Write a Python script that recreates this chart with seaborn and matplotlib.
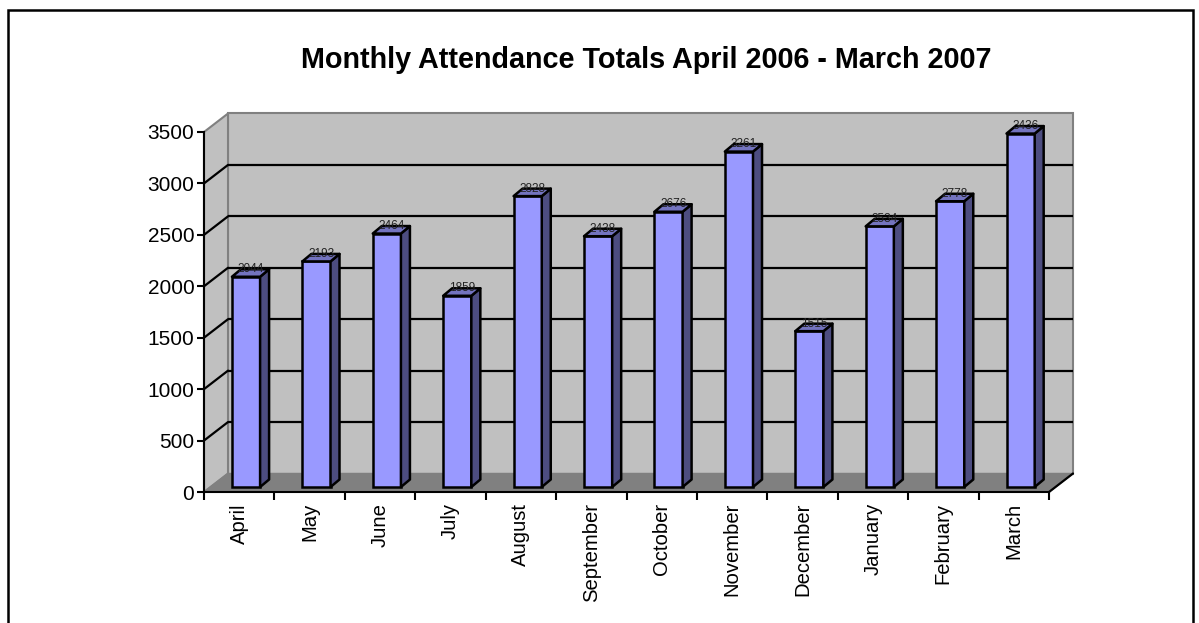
import matplotlib
matplotlib.use("Agg")
import matplotlib.pyplot as plt
from matplotlib.patches import Polygon, Rectangle
from matplotlib.transforms import ScaledTranslation
import pandas as pd
import seaborn as sns

months = ["April", "May", "June", "July", "August", "September", "October",
          "November", "December", "January", "February", "March"]
attendance = [2044, 2193, 2464, 1859, 2828, 2438, 2676, 3261, 1515, 2534, 2778, 3436]
y_ticks = [0, 500, 1000, 1500, 2000, 2500, 3000, 3500]
title = "Monthly Attendance Totals April 2006 - March 2007"

W, H = 1199, 623
sns.set_theme(style="white", rc={"font.family": ["Liberation Sans", "DejaVu Sans"]})
plt.rcParams["font.family"] = ["Liberation Sans", "DejaVu Sans"]

fig = plt.figure(figsize=(W / 100, H / 100), dpi=100, facecolor="white")
fig.add_artist(Rectangle((7.5 / W, -5 / H), 1185 / W, (H - 10 + 5) / H, transform=fig.transFigure,
                         fill=False, ec="black", lw=1.8))
ax = fig.add_axes([204 / W, 1 - 492 / H, 845 / W, 360 / H])

df = pd.DataFrame({"month": months, "attendance": attendance})
sns.barplot(data=df, x="month", y="attendance", color="#9999FF", saturation=1,
            width=0.4, edgecolor="black", linewidth=1.8, ax=ax, zorder=5)
ax.set_xlim(-0.5, 11.5)
ax.set_ylim(0, 3500)


def shift(dx, dy):
    return ax.transData + ScaledTranslation(dx / 100, dy / 100, fig.dpi_scale_trans)


WX, WY = 24, 18.5
BX, BY = 6.8, 5
DX, DY = 9, 7.5
back = shift(WX, WY)
x0, x1 = ax.get_xlim()
top = y_ticks[-1]

# Walls and floor of the 3D box
ax.add_patch(Polygon([(x0, 0), (x1, 0), (x1, top), (x0, top)], closed=True, transform=back,
                     fc="#C0C0C0", ec="#808080", lw=1.5, zorder=1, clip_on=False))
side = [(x0, 0), (x0, top)]
disp = [ax.transData.transform(p) for p in side] + [back.transform((x0, top)), back.transform((x0, 0))]
ax.add_patch(Polygon(disp, closed=True, transform=None, fc="#C0C0C0", ec="#808080", lw=1.5,
                     zorder=1, clip_on=False))
floor = [ax.transData.transform((x0, 0)), ax.transData.transform((x1, 0)),
         back.transform((x1, 0)), back.transform((x0, 0))]
ax.add_patch(Polygon(floor, closed=True, transform=None, fc="#808080", ec="#808080", lw=1,
                     zorder=2, clip_on=False))

# Gridlines on the back wall and the slanted part on the side wall
for v in y_ticks[1:-1]:
    ax.plot([x0, x1], [v, v], color="black", lw=1.6, transform=back, zorder=3, clip_on=False,
            solid_capstyle="butt")
    a, b = ax.transData.transform((x0, v)), back.transform((x0, v))
    ax.plot([a[0], b[0]], [a[1], b[1]], color="black", lw=1.6, transform=None, zorder=3,
            clip_on=False)
a, b = ax.transData.transform((x1, 0)), back.transform((x1, 0))
ax.plot([a[0], b[0]], [a[1], b[1]], color="black", lw=1.6, transform=None, zorder=3, clip_on=False)

# Bars: shift the seaborn bars to the floor and add the depth faces
front = shift(BX, BY)
bars = ax.containers[0]
for bar, value in zip(bars, attendance):
    bar.set_transform(front)
    bar.set_clip_on(False)
    l, r = bar.get_x(), bar.get_x() + bar.get_width()
    pl = front.transform((l, value))
    pr = front.transform((r, value))
    pb = front.transform((r, 0))
    ax.add_patch(Polygon([pr, pb, (pb[0] + DX, pb[1] + DY), (pr[0] + DX, pr[1] + DY)], closed=True,
                         transform=None, fc="#4D4D80", ec="black", lw=1.8, zorder=6,
                         clip_on=False, joinstyle="round"))
    ax.add_patch(Polygon([pl, pr, (pr[0] + DX, pr[1] + DY), (pl[0] + DX, pl[1] + DY)], closed=True,
                         transform=None, fc="#7373BF", ec="black", lw=1.8, zorder=6,
                         clip_on=False, joinstyle="round"))
    ax.annotate(f"{value}", xy=((l + r) / 2, value), xycoords=front, xytext=(3.5, 1),
                textcoords="offset points", ha="center", va="bottom", fontsize=8.5,
                color="#222222", zorder=8, annotation_clip=False)

# Axes lines, ticks, labels
ax.set_xticks([i - 0.5 for i in range(13)])
ax.set_xticklabels([""] * 13)
ax.set_xticks(range(12), minor=True)
ax.set_xticklabels(months, minor=True, rotation=90, fontsize=14.6, color="black")
ax.tick_params(axis="x", which="major", direction="out", length=6, width=1.5, color="black", bottom=True)
ax.tick_params(axis="x", which="minor", length=0, pad=8, bottom=False)
ax.set_yticks(y_ticks)
ax.set_yticklabels([str(v) for v in y_ticks], fontsize=15, color="black")
ax.tick_params(axis="y", direction="out", length=5, width=1.5, color="black", left=True, pad=2)
ax.set_xlabel("")
ax.set_ylabel("")
ax.patch.set_visible(False)
for name, s in ax.spines.items():
    s.set_visible(name in ("left", "bottom"))
    s.set_color("black")
    s.set_linewidth(1.5)
    s.set_zorder(7)

fig.text(646 / W, 1 - 59.5 / H, title, ha="center", va="center", fontsize=20.7, fontweight="bold",
         color="black")
fig.savefig("out.png", dpi=100)
